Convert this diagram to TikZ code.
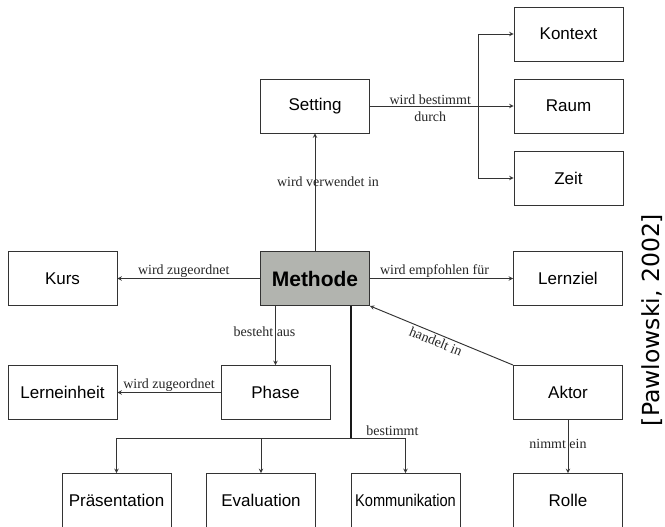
\documentclass[tikz,border=0pt]{standalone}
\usepackage{fontspec}
\usepackage{graphicx}
\usepackage{tikz}
\usetikzlibrary{positioning}
\newfontfamily\boxfont{Liberation Sans}
\newfontfamily\relfont{Liberation Serif}
\newfontfamily\citefont{DejaVu Sans}
\definecolor{methodgray}{RGB}{178,180,175}
\tikzstyle{concept} = [rectangle, minimum width=109pt, minimum height=54pt, inner sep=0pt, text centered, draw=black!80, line width=0.9pt, font=\boxfont\fontsize{17}{20}\selectfont]
\tikzstyle{core} = [concept, fill=methodgray, font=\boxfont\bfseries\fontsize{21}{24}\selectfont]
\tikzstyle{rel} = [font=\relfont\fontsize{14}{17}\selectfont, inner sep=1pt, text=black!85]
\tikzstyle{arrow} = [->,>=stealth, draw=black!80, line width=0.95pt]
\tikzstyle{trunk} = [draw=black!90, line width=1.6pt]

\begin{document}
\begin{tikzpicture}[x=1pt, y=-1pt, node distance=114pt]
        \useasboundingbox (0,0) rectangle (665,527);
        \node (methode) [core] at (315,278.5) {Methode};
        \node (setting) [concept, above of=methode, yshift=58.5pt] {Setting};
        \node (raum) [concept, right of=setting, xshift=139.5pt] {Raum};
        \node (kontext) [concept, above of=raum, yshift=-42pt] {Kontext};
        \node (zeit) [concept, below of=raum, yshift=42pt] {Zeit};
        \node (kurs) [concept, left of=methode, xshift=-138.5pt] {Kurs};
        \node (lernziel) [concept, right of=methode, xshift=139pt] {Lernziel};
        \node (phase) [concept, below of=methode, xshift=-39.5pt] {Phase};
        \node (lerneinheit) [concept, left of=phase, xshift=-99pt] {Lerneinheit};
        \node (aktor) [concept, below of=lernziel] {Aktor};
        \node (rolle) [concept, below of=aktor, yshift=6pt] {Rolle};
        \node (evaluation) [concept, below of=phase, xshift=-14.5pt, yshift=6pt] {Evaluation};
        \node (praesentation) [concept, left of=evaluation, xshift=-30.5pt] {Präsentation};
        \node (kommunikation) [concept, right of=evaluation, xshift=30.5pt] {\scalebox{0.86}[1]{Kommunikation}};
        \node (quelle) [font=\citefont\fontsize{23.5}{28}\selectfont, rotate=90] at (652,320) {[Pawlowski, 2002]};
        \node (split) [coordinate, right of=setting, xshift=49.5pt] {};
        \node (junction) [coordinate, below of=methode, xshift=36pt, yshift=-45.5pt] {};

        \draw [arrow] (methode) -- node[rel, pos=0.59, xshift=13pt] {wird verwendet in} (setting);
        \draw [arrow] (setting) -- node[rel, align=center, pos=0.42, yshift=-2pt] {wird bestimmt\\durch} (raum);
        \draw [arrow] (split) |- (kontext);
        \draw [arrow] (split) |- (zeit);
        \draw [arrow] (methode) -- node[rel, above, xshift=-5pt] {wird zugeordnet} (kurs);
        \draw [arrow] (methode) -- node[rel, above, xshift=-7pt] {wird empfohlen für} (lernziel);
        \draw [arrow] (phase) -- node[rel, above] {wird zugeordnet} (lerneinheit);
        \draw [arrow] (methode.south -| phase) -- node[rel, xshift=-11pt, yshift=4pt] {besteht aus} (phase);
        \draw [arrow, <-] (methode.south east) -- node[rel, sloped, below, xshift=-3pt, yshift=-1pt] {handelt in} (aktor.north west);
        \draw [arrow] (aktor) -- node[rel, xshift=-10pt, yshift=3pt] {nimmt ein} (rolle);
        \draw [trunk] (methode.south -| junction) -- (junction);
        \draw [arrow] (junction) -| (praesentation);
        \draw [arrow] (junction) -| (evaluation);
        \draw [arrow] (junction) -| node[rel, pos=0.38, above, yshift=1pt] {bestimmt} (kommunikation);
\end{tikzpicture}
\end{document}
